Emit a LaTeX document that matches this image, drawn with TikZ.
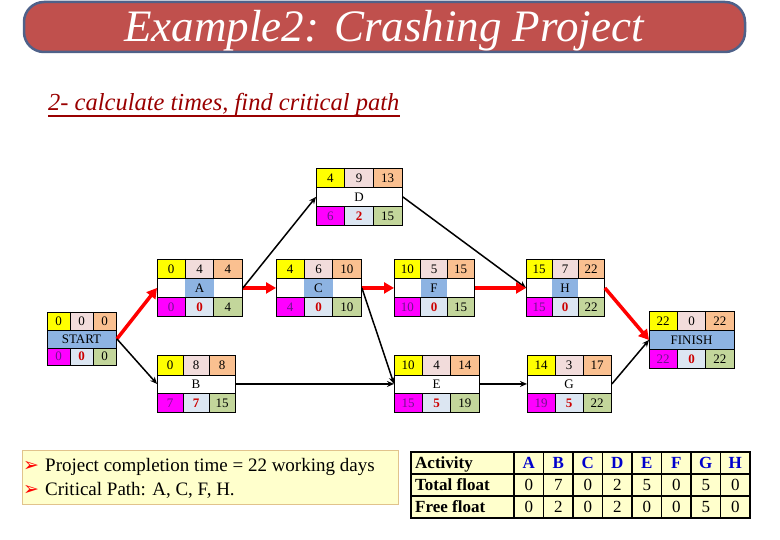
\documentclass[tikz,border=0pt]{standalone}
\usepackage{fontspec}
\setmainfont{Liberation Serif}
\newfontfamily\dejavu{DejaVu Sans}
\usetikzlibrary{arrows.meta}
\definecolor{cyel}{RGB}{255,255,0}
\definecolor{cpink}{RGB}{242,220,219}
\definecolor{cpeach}{RGB}{250,192,144}
\definecolor{cmag}{RGB}{255,0,255}
\definecolor{cgray}{RGB}{220,230,242}
\definecolor{cgreen}{RGB}{195,214,155}
\definecolor{cblue}{RGB}{141,179,226}
\definecolor{cpurp}{RGB}{110,20,140}
\definecolor{cred}{RGB}{204,0,0}
\definecolor{titlefill}{RGB}{192,80,77}
\definecolor{titleline}{RGB}{79,97,137}
\definecolor{subred}{RGB}{153,0,0}
\definecolor{paleyel}{RGB}{255,255,204}
\definecolor{tanline}{RGB}{225,195,140}
\definecolor{hdrblue}{RGB}{0,0,204}
\tikzset{
 cellline/.style={draw=black, line width=0.9pt},
 celltxt/.style={inner sep=0, font=\fontsize{13}{14}\selectfont},
 crit/.style={draw=red, line width=3.5pt, -{Triangle[length=10pt,width=11pt]}},
 normal/.style={draw=black, line width=1.5pt, -{Stealth[length=7pt,width=6pt]}},
 tabtxt/.style={inner sep=0, anchor=base, font=\fontsize{17}{18}\selectfont},
 tabhdr/.style={tabtxt, text=hdrblue, font=\fontsize{17}{18}\selectfont\bfseries},
 tablbl/.style={inner sep=0, anchor=base west, font=\fontsize{17}{18}\selectfont\bfseries},
 tabline/.style={draw=black, line width=1.3pt},
}
\def\rowA#1/#2/#3\relax{\def\ra{#1}\def\rb{#2}\def\rc{#3}}
\def\rowB#1/#2/#3\relax{\def\rd{#1}\def\re{#2}\def\rf{#3}}
\def\bh{57}
% #1 name, #2 x, #3 y, #4 width, #5 mode (0 none, 1 mid cell, 2 full), #6 label, #7 top row, #8 bottom row
\newcommand{\actbox}[8]{%
 \rowA#7\relax\rowB#8\relax
 \begin{scope}[shift={(#2,#3)}]
  \pgfmathsetmacro\cw{#4/3}
  \pgfmathsetmacro\ya{0.35*\bh}
  \pgfmathsetmacro\yb{0.68*\bh}
  \fill[cyel] (0,0) rectangle (\cw,\ya);
  \fill[cpink] (\cw,0) rectangle ({2*\cw},\ya);
  \fill[cpeach] ({2*\cw},0) rectangle (#4,\ya);
  \fill[cmag] (0,\yb) rectangle (\cw,\bh);
  \fill[cgray] (\cw,\yb) rectangle ({2*\cw},\bh);
  \fill[cgreen] ({2*\cw},\yb) rectangle (#4,\bh);
  \ifcase#5\or\fill[cblue] (\cw,\ya) rectangle ({2*\cw},\yb);\or\fill[cblue] (0,\ya) rectangle (#4,\yb);\fi
  \draw[cellline] (0,\ya) -- (#4,\ya) (0,\yb) -- (#4,\yb)
    (\cw,0) -- (\cw,\ya) ({2*\cw},0) -- ({2*\cw},\ya)
    (\cw,\yb) -- (\cw,\bh) ({2*\cw},\yb) -- ({2*\cw},\bh);
  \node[celltxt] (#1-es) at ({\cw/2},{\ya/2}) {\ra};
  \node[celltxt] (#1-du) at ({1.5*\cw},{\ya/2}) {\rb};
  \node[celltxt] (#1-ef) at ({2.5*\cw},{\ya/2}) {\rc};
  \node[celltxt] (#1-lbl) at ({#4/2},{(\ya+\yb)/2}) {#6};
  \node[celltxt,text=cpurp] (#1-ls) at ({\cw/2},{(\yb+\bh)/2}) {\rd};
  \node[celltxt,text=cred,font=\fontsize{13}{14}\selectfont\bfseries] (#1-tf) at ({1.5*\cw},{(\yb+\bh)/2}) {\re};
  \node[celltxt] (#1-lf) at ({2.5*\cw},{(\yb+\bh)/2}) {\rf};
  \node[draw, line width=0.9pt, minimum width=#4pt, minimum height=\bh pt, anchor=north west, inner sep=0] (#1) at (0,0) {};
 \end{scope}}
\begin{document}
\begin{tikzpicture}[x=1pt,y=-1pt]
\useasboundingbox (0,0) rectangle (780,540);
% title
\node[draw=titleline, line width=2.5pt, fill=titlefill, rounded corners=20pt, minimum width=721pt, minimum height=50pt, inner sep=0] (titlebar) at (384.5,27) {};
\node[inner sep=0, anchor=base, text=white, font=\fontsize{45}{46}\selectfont\itshape] (title) at (384,42) {Example2: Crashing Project};
% subtitle
\node[inner sep=0, anchor=base west, text=subred, font=\fontsize{24.5}{25}\selectfont\itshape] (sub) at (48,111) {2- calculate times, find critical path};
\draw[subred, line width=1.2pt] ([yshift=-5pt]sub.base west) -- ([yshift=-5pt]sub.base east);
% activity boxes
{\def\bh{53}\actbox{START}{47}{312}{69}{2}{START}{0/0/0}{0/0/0}}
\actbox{A}{157}{259}{85}{1}{A}{0/4/4}{0/0/4}
\actbox{B}{157}{355}{78}{0}{B}{0/8/8}{7/7/15}
\actbox{C}{276}{259}{85}{1}{C}{4/6/10}{4/0/10}
\actbox{D}{316}{168}{86}{0}{D}{4/9/13}{6/2/15}
\actbox{E}{394}{355}{85}{0}{E}{10/4/14}{15/5/19}
\actbox{F}{394}{259}{80}{1}{F}{10/5/15}{10/0/15}
\actbox{G}{527}{355}{84}{0}{G}{14/3/17}{19/5/22}
\actbox{H}{526}{259}{78}{1}{H}{15/7/22}{15/0/22}
\actbox{FINISH}{649}{311}{85}{2}{FINISH}{22/0/22}{22/0/22}
% connectors
\draw[crit] (START.east) -- (A.west);
\draw[normal] (START.east) -- (B.west);
\draw[crit] (A.east) -- (C.west);
\draw[normal] (A.east) -- (D.west);
\draw[crit] (C.east) -- (F.west);
\draw[normal] (C.east) -- (E.west);
\draw[normal] (B.east) -- (E.west);
\draw[normal] (D.east) -- (H.west);
\draw[crit] (F.east) -- (H.west);
\draw[normal] (E.east) -- (G.west);
\draw[crit] (H.east) -- (FINISH.west);
\draw[normal] (G.east) -- (FINISH.west);
% bullet box
\node[draw=tanline, line width=1pt, fill=paleyel, minimum width=376pt, minimum height=54pt, anchor=north west, inner sep=0] (bulbox) at (22,450) {};
\node[inner sep=0, anchor=base, text=red, font=\dejavu\fontsize{19}{20}\selectfont] (bm1) at (31,471) {➢};
\node[inner sep=0, anchor=base, text=red, font=\dejavu\fontsize{19}{20}\selectfont] (bm2) at (31,495) {➢};
\node[inner sep=0, anchor=base west, font=\fontsize{19}{20}\selectfont] (bt1) at (45,471) {Project completion time = 22 working days};
\node[inner sep=0, anchor=base west, font=\fontsize{19}{20}\selectfont] (bt2) at (45,495) {Critical Path: A, C, F, H.};
% table
\fill[paleyel] (411,452) rectangle (750,518);
\draw[tabline] (411,452) rectangle (750,518);
\draw[tabline] (411,474) -- (750,474) (411,496) -- (750,496);
\foreach \k in {0,...,7} { \draw[tabline] ({514+29.5*\k},452) -- ({514+29.5*\k},518); }
\node[tablbl] (tl1) at (415,468.5) {Activity};
\node[tablbl] (tl2) at (415,490.5) {Total float};
\node[tablbl] (tl3) at (415,512.5) {Free float};
\foreach \L/\tf/\ff [count=\i] in {A/0/0,B/7/2,C/0/0,D/2/2,E/5/0,F/0/0,G/5/5,H/0/0} {
 \pgfmathsetmacro\xc{514+29.5*(\i-0.5)}
 \node[tabhdr] (th-\L) at (\xc,468.5) {\L};
 \node[tabtxt] (tt-\L) at (\xc,490.5) {\tf};
 \node[tabtxt] (tf-\L) at (\xc,512.5) {\ff};
}
\end{tikzpicture}
\end{document}
